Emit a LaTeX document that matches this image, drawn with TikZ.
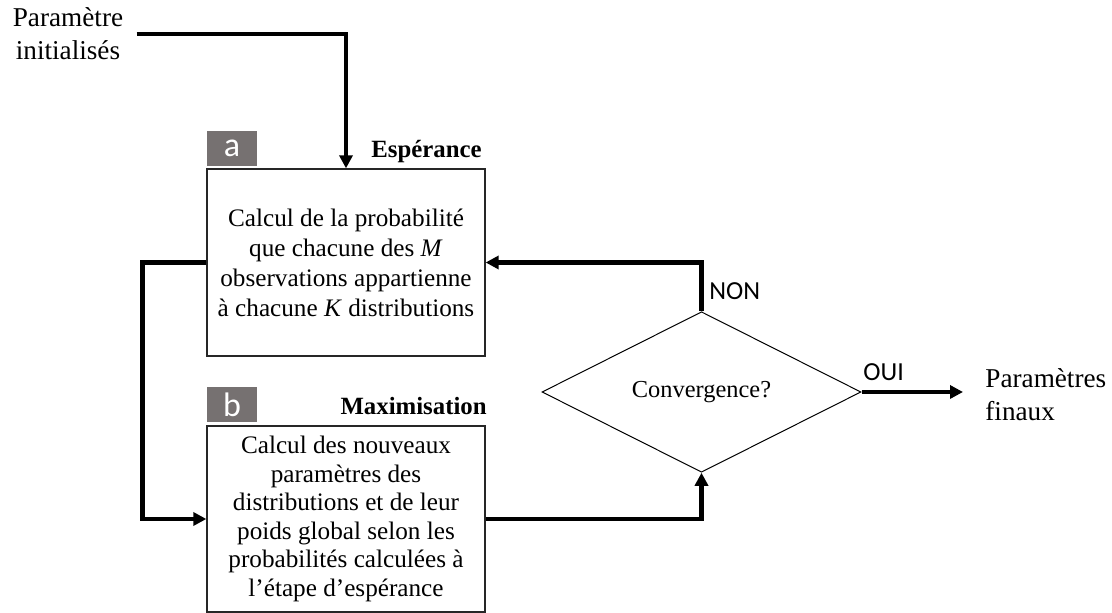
\documentclass[tikz,border=0pt]{standalone}
\usepackage{fontspec}
\setmainfont{Liberation Serif}
\newfontfamily\calibrifont{Carlito}
\usetikzlibrary{shapes.geometric,arrows.meta}
\definecolor{tagGrey}{HTML}{767171}

\begin{document}
\begin{tikzpicture}[x=0.5pt,y=-0.5pt,
  flow/.style={line width=2.3pt,-{Triangle[length=6.5pt,width=6.5pt]}},
  stepbox/.style={draw=black!85,line width=0.65pt,minimum width=139pt,
    minimum height=93.5pt,inner sep=0pt,align=center},
  tag/.style={fill=tagGrey,text=white,minimum width=25pt,minimum height=17.5pt,
    inner sep=0pt,font=\calibrifont\fontsize{17pt}{17pt}\selectfont},
  title/.style={font=\bfseries\fontsize{12.4pt}{14pt}\selectfont,inner sep=0pt},
  answer/.style={font=\calibrifont\fontsize{13pt}{14pt}\selectfont,inner sep=0pt},
  outer/.style={font=\fontsize{13.6pt}{16.5pt}\selectfont,inner sep=0pt}
]
\useasboundingbox (0,0) rectangle (1112,613);

% inputs and outputs
\node[outer,align=center,inner xsep=6.5pt] (init) at (68,34) {Paramètre\\initialisés};
\node[outer,align=left,anchor=west] (final) at (985,395) {Paramètres\\finaux};

% expectation step
\node[stepbox,font=\fontsize{12.6pt}{15pt}\selectfont] (boxA) at (346,262.5)
  {Calcul de la probabilité\\que chacune des \textit{M}\\observations appartienne\\à chacune \textit{K} distributions};
\node[tag] (tagA) at (232,148.5) {a};
\node[title,anchor=base east] (titleA) at (482,158) {Espérance};

% maximisation step
\node[stepbox,minimum height=93pt,font=\fontsize{12.6pt}{14.3pt}\selectfont] (boxB) at (346,519)
  {Calcul des nouveaux\\paramètres des\\distributions et de leur\\poids global selon les\\probabilités calculées à\\l’étape d’espérance};
\node[tag] (tagB) at (232,405) {b};
\node[title,anchor=base east] (titleB) at (487,415) {Maximisation};

% convergence test
\node[draw,diamond,line width=0.5pt,minimum width=159.5pt,minimum height=58pt,
  inner sep=0pt,font=\fontsize{12.2pt}{14pt}\selectfont] (conv) at (701.5,392) {Convergence?};
\node[answer,anchor=base west] (non) at (709,300) {NON};
\node[answer,anchor=base west] (oui) at (863,381) {OUI};

% connectors
\draw[flow] (init.east) -| (boxA.north);
\draw[flow] (boxA.west) -- ++(-64,0) |- (boxB.west);
\draw[flow] (boxB.east) -| (conv.south);
\draw[flow] (conv.north) |- (boxA.east);
\draw[flow,shorten >=11pt] (conv.east) -- (conv.east -| final.west);
\end{tikzpicture}
\end{document}
